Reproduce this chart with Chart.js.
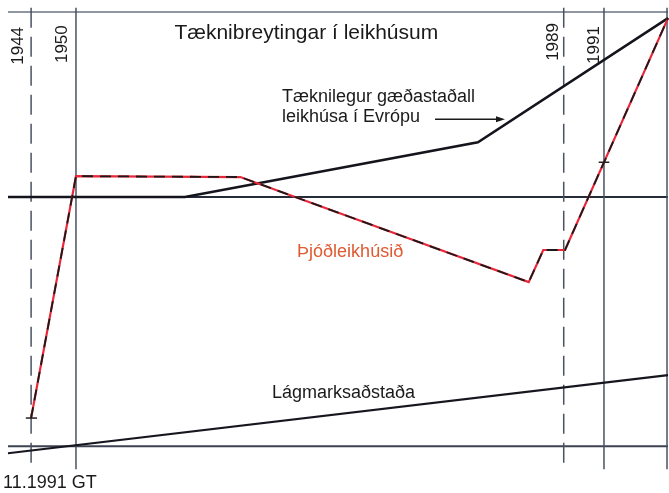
<!DOCTYPE html>
<html>
<head>
<meta charset="utf-8">
<script src="https://cdn.jsdelivr.net/npm/chart.js@4.4.1/dist/chart.umd.min.js"></script>
<style>
  html, body { margin: 0; padding: 0; background: #fff; }
  #wrap { width: 669px; height: 493px; position: relative; }
</style>
</head>
<body>
<div id="wrap"><canvas id="chart"></canvas></div>
<script>
// x in chart units (0 = left edge, 100 = right edge), y in level units (0 = baseline, 100 = top)
const europeX = [0, 26.8, 71.2, 100];
const europeY = [57.4, 57.4, 70.0, 98.6];

const theatreX = [3.5, 10.3, 35.2, 78.9, 81.1, 84.4, 100];
const theatreY = [6.5, 62.2, 62.0, 37.8, 45.2, 45.2, 98.6];

const minimumX = [0, 100];
const minimumY = [-1.6, 16.4];

const yearLabels = ['1944', '1950', '1989', '1991'];
const yearX = [3.5, 10.3, 84.2, 90.3];
const yearDashed = [true, false, true, false];

const frameY = [100, 57.4, 0];   // horizontal reference lines
const rightEdgeX = 99.85;

const titleText = 'Tæknibreytingar í leikhúsum';
const europeText = ['Tæknilegur gæðastaðall', 'leikhúsa í Evrópu'];
const theatreText = 'Þjóðleikhúsið';
const minimumText = 'Lágmarksaðstaða';
const footText = '11.1991 GT';

function pts(xs, ys) {
    return xs.map((x, i) => ({ x: x, y: ys[i] }));
}

// lower "order" is drawn on top
const datasets = [];

frameY.forEach((y, i) => {
    datasets.push({
        data: pts([0, 100], [y, y]),
        borderColor: i === 0 ? '#6a7282' : (i === 1 ? '#262b38' : '#3c4252'),
        borderWidth: i === 0 ? 1.5 : 2,
        order: 20,
        clip: false
    });
});

yearX.forEach((x, i) => {
    datasets.push({
        data: pts([x, x], [101, -5.3]),
        borderColor: '#4a5262',
        borderWidth: 1.5,
        borderDash: yearDashed[i] ? [20, 9] : [],
        order: 19,
        clip: false
    });
});
datasets.push({
    data: pts([rightEdgeX, rightEdgeX], [101, -5.3]),
    borderColor: '#4a5262',
    borderWidth: 1.5,
    order: 19,
    clip: false
});

datasets.push({
    data: pts(minimumX, minimumY),
    borderColor: '#16161f',
    borderWidth: 2.2,
    order: 6,
    clip: false
});

datasets.push({
    data: pts(europeX, europeY),
    borderColor: '#14141c',
    borderWidth: 2.5,
    order: 5,
    clip: false
});

datasets.push({
    data: pts(theatreX, theatreY),
    borderColor: '#e8283a',
    borderWidth: 2.2,
    order: 4,
    clip: false
});
datasets.push({
    data: pts(theatreX, theatreY),
    borderColor: '#1a1a1a',
    borderWidth: 1.8,
    borderDash: [11, 7],
    order: 3,
    clip: false
});

// small tick marks on the theatre line
datasets.push({ data: pts([2.7, 4.4], [6.5, 6.5]), borderColor: '#222', borderWidth: 1.5, order: 1, clip: false });
datasets.push({ data: pts([89.5, 91.1], [65.4, 65.4]), borderColor: '#222', borderWidth: 1.5, order: 1, clip: false });

const textPlugin = {
    id: 'texts',
    afterDatasetsDraw(chart) {
        const ctx = chart.ctx;
        const xs = chart.scales.x, ys = chart.scales.y;
        const px = v => xs.getPixelForValue(v);
        const py = v => ys.getPixelForValue(v);
        const font = s => s + 'px "Liberation Sans", Arial, sans-serif';
        ctx.save();
        ctx.fillStyle = '#1a1a1a';
        ctx.textBaseline = 'middle';

        ctx.font = font(21);
        ctx.textAlign = 'center';
        ctx.fillText(titleText, px(45.2), py(95.2));

        ctx.font = font(18);
        ctx.textAlign = 'left';
        ctx.fillText(europeText[0], px(41.5), py(80.5));
        ctx.fillText(europeText[1], px(41.5), py(75.9));
        ctx.fillText(minimumText, px(40.0), py(12.2));
        ctx.fillText(footText, px(-0.76), py(-8.5));

        ctx.fillStyle = '#de5a32';
        ctx.fillText(theatreText, px(43.8), py(44.7));

        // arrow
        ctx.strokeStyle = '#1a1a1a';
        ctx.fillStyle = '#1a1a1a';
        ctx.lineWidth = 1.5;
        const ax0 = px(64.7), ax1 = px(75.3), ay = py(75.3);
        ctx.beginPath();
        ctx.moveTo(ax0, ay);
        ctx.lineTo(ax1 - 6, ay);
        ctx.stroke();
        ctx.beginPath();
        ctx.moveTo(ax1, ay);
        ctx.lineTo(ax1 - 9, ay - 3);
        ctx.lineTo(ax1 - 9, ay + 3);
        ctx.closePath();
        ctx.fill();

        // rotated year labels
        ctx.font = font(17);
        ctx.textAlign = 'center';
        const yearPos = [[1.5, 92.2], [8.3, 92.6], [82.6, 93.1], [88.8, 92.4]];
        yearLabels.forEach((t, i) => {
            ctx.save();
            ctx.translate(px(yearPos[i][0]), py(yearPos[i][1]));
            ctx.rotate(-Math.PI / 2);
            ctx.fillText(t, 0, 0);
            ctx.restore();
        });
        ctx.restore();
    }
};

new Chart(document.getElementById('chart'), {
    type: 'scatter',
    data: { datasets: datasets },
    options: {
        responsive: true,
        maintainAspectRatio: false,
        animation: false,
        showLine: true,
        elements: { point: { radius: 0, hoverRadius: 0 }, line: { tension: 0 } },
        layout: { padding: { left: 8, right: 1, top: 12, bottom: 25 } },
        plugins: { legend: { display: false }, tooltip: { enabled: false } },
        scales: {
            x: { type: 'linear', min: 0, max: 100, display: false },
            y: { type: 'linear', min: -5, max: 100, display: false }
        }
    },
    plugins: [textPlugin]
});
</script>
</body>
</html>
